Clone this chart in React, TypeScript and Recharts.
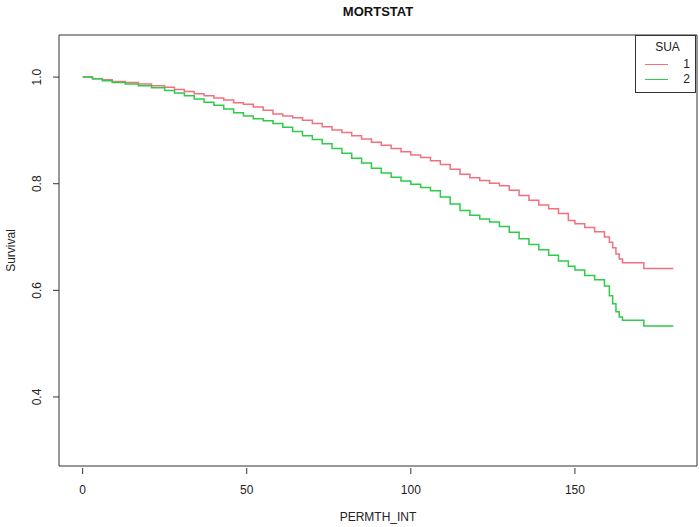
import { LineChart, Line, XAxis, YAxis, ReferenceArea } from "recharts";

// survival curves by SUA group (Kaplan-Meier steps)
const redTime = [0, 3, 6, 9, 13, 17, 21, 25, 28, 31, 34, 37, 40, 43, 46, 49, 52, 55, 58, 61, 64, 67, 70, 73, 76, 79, 82, 85, 88, 91, 94, 97, 100, 103, 106, 109, 112, 115, 118, 121, 124, 127, 130, 133, 136, 139, 142, 145, 148, 150, 153, 156, 159, 160.5, 161.5, 162.5, 163.5, 164.5, 171, 180];
const redSurv = [1.0, 0.997, 0.995, 0.992, 0.99, 0.987, 0.984, 0.981, 0.977, 0.973, 0.969, 0.965, 0.961, 0.957, 0.952, 0.949, 0.944, 0.938, 0.931, 0.927, 0.924, 0.919, 0.913, 0.907, 0.901, 0.896, 0.89, 0.884, 0.878, 0.872, 0.866, 0.86, 0.854, 0.849, 0.843, 0.836, 0.827, 0.818, 0.811, 0.806, 0.801, 0.796, 0.788, 0.778, 0.769, 0.76, 0.753, 0.744, 0.731, 0.725, 0.718, 0.71, 0.7, 0.69, 0.68, 0.668, 0.659, 0.652, 0.641, 0.641];

const greenTime = [0, 3, 6, 9, 13, 17, 21, 25, 28, 31, 34, 37, 40, 43, 46, 49, 52, 55, 58, 61, 64, 67, 70, 73, 76, 79, 82, 85, 88, 91, 94, 97, 100, 103, 106, 109, 112, 115, 118, 121, 124, 127, 130, 133, 136, 139, 142, 145, 148, 150, 153, 156, 159, 160.5, 161.5, 162.5, 163.5, 164.5, 171, 180];
const greenSurv = [1.0, 0.997, 0.993, 0.99, 0.987, 0.984, 0.98, 0.975, 0.97, 0.965, 0.959, 0.953, 0.947, 0.94, 0.933, 0.927, 0.922, 0.918, 0.913, 0.906, 0.898, 0.89, 0.883, 0.875, 0.866, 0.857, 0.848, 0.839, 0.829, 0.82, 0.812, 0.805, 0.799, 0.793, 0.787, 0.775, 0.762, 0.75, 0.741, 0.734, 0.728, 0.72, 0.709, 0.697, 0.686, 0.676, 0.666, 0.655, 0.645, 0.638, 0.628, 0.62, 0.608, 0.59, 0.575, 0.56, 0.55, 0.544, 0.533, 0.533];

const xTicks = [0, 50, 100, 150];
const yTicks = [0.4, 0.6, 0.8, 1.0];
const groups = ["1", "2"];
const colors = ["#f2707f", "#2ecc4a"];

const X_DOMAIN = [-7.2, 187.2];
const Y_DOMAIN = [0.2705, 1.079];

const redData = redTime.map((t, i) => ({ t, s: redSurv[i] }));
const greenData = greenTime.map((t, i) => ({ t, s: greenSurv[i] }));

const FONT = "'Liberation Sans', Arial, sans-serif";

const XTick = ({ x, y, payload }: any) => (
  <g>
    <line x1={x} x2={x} y1={y + 2} y2={y + 8} stroke="#333" />
    <text x={x} y={y + 28} textAnchor="middle" fontSize={12} fill="#222" fontFamily={FONT}>
      {payload.value}
    </text>
  </g>
);

const YTick = ({ x, y, payload }: any) => (
  <g>
    <line x1={x - 6} x2={x} y1={y} y2={y} stroke="#333" />
    <text
      x={41}
      y={y}
      transform={`rotate(-90 41 ${y})`}
      textAnchor="middle"
      fontSize={12}
      fill="#222"
      fontFamily={FONT}
    >
      {payload.value.toFixed(1)}
    </text>
  </g>
);

export default function App() {
  return (
    <div style={{ position: "relative", width: 699, height: 527, background: "#fff", fontFamily: FONT }}>
      <style>{`body{margin:0}`}</style>
      <div
        style={{
          position: "absolute",
          left: 59,
          width: 638,
          top: 4,
          textAlign: "center",
          fontSize: 13,
          lineHeight: "16px",
          fontWeight: "bold",
          color: "#111",
        }}
      >
        MORTSTAT
      </div>

      <LineChart width={699} height={527} margin={{ top: 35, right: 2, bottom: 0, left: 0 }}>
        <XAxis
          type="number"
          dataKey="t"
          domain={X_DOMAIN}
          ticks={xTicks}
          allowDataOverflow
          axisLine={false}
          tickLine={false}
          tickSize={0}
          tickMargin={0}
          height={61}
          tick={<XTick />}
          label={(p: any) => (
            <text
              x={p.viewBox.x + p.viewBox.width / 2}
              y={p.viewBox.y + 55}
              textAnchor="middle"
              fontSize={12}
              fill="#222"
              fontFamily={FONT}
            >
              PERMTH_INT
            </text>
          )}
        />
        <YAxis
          type="number"
          domain={Y_DOMAIN}
          ticks={yTicks}
          allowDataOverflow
          axisLine={false}
          tickLine={false}
          tickSize={0}
          tickMargin={0}
          width={59}
          tick={<YTick />}
          label={(p: any) => {
            const cx = p.viewBox.x + 15;
            const cy = p.viewBox.y + p.viewBox.height / 2;
            return (
              <text
                x={cx}
                y={cy}
                transform={`rotate(-90 ${cx} ${cy})`}
                textAnchor="middle"
                fontSize={12}
                fill="#222"
                fontFamily={FONT}
              >
                Survival
              </text>
            );
          }}
        />
        <ReferenceArea
          x1={X_DOMAIN[0]}
          x2={X_DOMAIN[1]}
          y1={Y_DOMAIN[0]}
          y2={Y_DOMAIN[1]}
          fill="none"
          stroke="#333"
          strokeWidth={1}
          ifOverflow="visible"
        />
        <Line
          data={redData}
          dataKey="s"
          type="stepAfter"
          stroke={colors[0]}
          strokeWidth={1.5}
          dot={false}
          isAnimationActive={false}
        />
        <Line
          data={greenData}
          dataKey="s"
          type="stepAfter"
          stroke={colors[1]}
          strokeWidth={1.5}
          dot={false}
          isAnimationActive={false}
        />
      </LineChart>

      <div
        style={{
          position: "absolute",
          left: 635,
          top: 35,
          width: 61,
          height: 58,
          border: "1px solid #333",
          boxSizing: "border-box",
          background: "#fff",
          fontSize: 12,
          color: "#222",
        }}
      >
        <div style={{ position: "absolute", left: 0, width: 63, top: 4, textAlign: "center", lineHeight: "14px" }}>SUA</div>
        {groups.map((g, i) => (
          <div key={g}>
            <div
              style={{
                position: "absolute",
                left: 9,
                width: 23,
                top: 28 + i * 14.5,
                height: 0,
                borderTop: `1.5px solid ${colors[i]}`,
              }}
            />
            <div style={{ position: "absolute", right: 5, top: 21 + i * 14.5, lineHeight: "14px" }}>{g}</div>
          </div>
        ))}
      </div>
    </div>
  );
}
